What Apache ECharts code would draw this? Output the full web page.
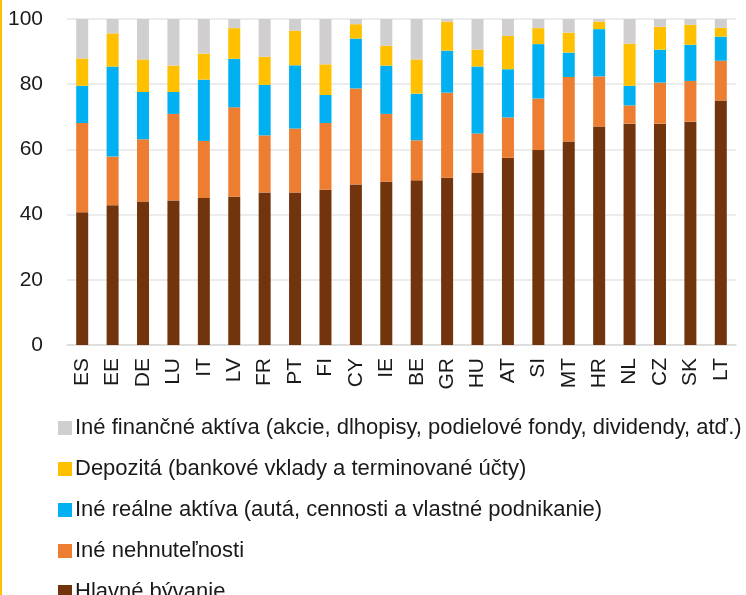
<!DOCTYPE html>
<html>
<head>
<meta charset="utf-8">
<script src="https://cdn.jsdelivr.net/npm/echarts@6/dist/echarts.min.js"></script>
<style>
  html, body { margin: 0; padding: 0; background: #fff; }
  #chart { width: 746px; height: 595px; }
</style>
</head>
<body>
<div id="chart"></div>
<script>
const countries = ["ES", "EE", "DE", "LU", "IT", "LV", "FR", "PT", "FI", "CY", "IE", "BE", "GR", "HU", "AT", "SI", "MT", "HR", "NL", "CZ", "SK", "LT"];
const mainHome = [40.7, 42.9, 44.0, 44.3, 45.1, 45.5, 46.8, 46.8, 47.6, 49.2, 50.1, 50.5, 51.3, 52.8, 57.4, 59.8, 62.4, 67.0, 67.9, 67.9, 68.5, 75.0];
const otherRealEstate = [27.4, 14.9, 19.1, 26.6, 17.5, 27.4, 17.5, 19.6, 20.5, 29.5, 20.8, 12.3, 26.1, 12.1, 12.4, 15.8, 19.8, 15.4, 5.6, 12.6, 12.5, 12.2];
const otherRealAssets = [11.4, 27.6, 14.5, 6.7, 18.8, 14.9, 15.5, 19.4, 8.6, 15.3, 14.8, 14.3, 12.9, 20.5, 14.8, 16.7, 7.5, 14.5, 6.0, 10.1, 11.1, 7.4];
const deposits = [8.4, 10.2, 10.0, 8.1, 8.0, 9.4, 8.6, 10.6, 9.4, 4.4, 6.1, 10.5, 8.9, 5.2, 10.2, 4.9, 6.1, 2.3, 12.9, 7.0, 6.1, 2.7];
const otherFinancial = [12.1, 4.4, 12.4, 14.3, 10.6, 2.8, 11.6, 3.6, 13.9, 1.6, 8.2, 12.4, 0.8, 9.4, 5.2, 2.8, 4.2, 0.8, 7.6, 2.4, 1.8, 2.7];

const names = [
  "Hlavné bývanie",
  "Iné nehnuteľnosti",
  "Iné reálne aktíva (autá, cennosti a vlastné podnikanie)",
  "Depozitá (bankové vklady a terminované účty)",
  "Iné finančné aktíva (akcie, dlhopisy, podielové fondy, dividendy, atď.)"
];
const colors = ["#72340c", "#ed7d31", "#00b0f0", "#ffc000", "#d0cece"];
const seriesData = [mainHome, otherRealEstate, otherRealAssets, deposits, otherFinancial];

const chart = echarts.init(document.getElementById("chart"));
const font = "'Liberation Sans', sans-serif";

const option = {
  animation: false,
  color: colors,
  graphic: [
    { type: "rect", left: 0, top: 0, shape: { width: 2, height: 595 }, style: { fill: "#ffc000" } }
  ],
  grid: { left: 67, right: 10, top: 19, bottom: 250 },
  legend: {
    orient: "vertical",
    left: 53,
    top: 411,
    height: 260,
    itemGap: 17,
    itemWidth: 14,
    itemHeight: 14,
    icon: "rect",
    data: names.slice().reverse(),
    textStyle: { fontFamily: font, fontSize: 22, lineHeight: 24, color: "#1a1a1a", padding: [0, 0, 0, -2] }
  },
  xAxis: {
    type: "category",
    data: countries,
    axisLine: { lineStyle: { color: "#d9d9d9", width: 1.5 } },
    axisTick: { show: false },
    axisLabel: { rotate: 90, fontFamily: font, fontSize: 21, color: "#1a1a1a", margin: 13 }
  },
  yAxis: {
    type: "value",
    min: 0,
    max: 100,
    interval: 20,
    axisLine: { show: false },
    axisTick: { show: false },
    splitLine: { lineStyle: { color: "#e6e6e6", width: 1.5 } },
    axisLabel: { fontFamily: font, fontSize: 21, color: "#1a1a1a", margin: 24 }
  },
  series: seriesData.map((d, i) => ({
    name: names[i],
    type: "bar",
    stack: "total",
    barWidth: 12,
    data: d,
    itemStyle: { color: colors[i] }
  }))
};

chart.setOption(option);
window.onresize = function () {
  chart.resize();
};
</script>
</body>
</html>
